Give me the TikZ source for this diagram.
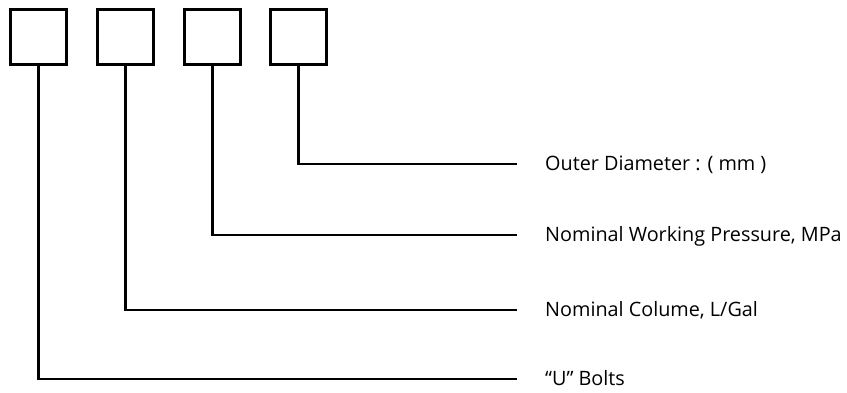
\documentclass[tikz,border=0pt]{standalone}
\usepackage{fontspec}
\setmainfont{Open Sans}
\begin{document}
\begin{tikzpicture}[x=1pt,y=1pt,
  codebox/.style={draw=black,line width=2.2pt,minimum width=56pt,minimum height=55pt,inner sep=0pt,fill=white},
  leader/.style={draw=black,line width=2.2pt,line join=miter},
  lbl/.style={anchor=base west,inner sep=0pt,font=\fontsize{19.8}{22}\selectfont}]
\useasboundingbox (0,0) rectangle (847,392);
\node[codebox] (b1) at (38.5,355) {};
\node[codebox] (b2) at (125.5,355) {};
\node[codebox] (b3) at (212.5,355) {};
\node[codebox] (b4) at (298.5,355) {};
\coordinate (e4) at (517,228);
\coordinate (e3) at (517,157);
\coordinate (e2) at (517,82);
\coordinate (e1) at (517,13);
\draw[leader] (b4.south) |- (e4);
\draw[leader] (b3.south) |- (e3);
\draw[leader] (b2.south) |- (e2);
\draw[leader] (b1.south) |- (e1);
\node[lbl] (t4) at ([xshift=28pt,yshift=-6.5pt]e4) {Outer Diameter : ( mm )};
\node[lbl] (t3) at ([xshift=28pt,yshift=-6.5pt]e3) {Nominal Working Pressure, MPa};
\node[lbl] (t2) at ([xshift=28pt,yshift=-6.5pt]e2) {Nominal Colume, L/Gal};
\node[lbl] (t1) at ([xshift=28pt,yshift=-6.5pt]e1) {“U” Bolts};
\end{tikzpicture}
\end{document}
